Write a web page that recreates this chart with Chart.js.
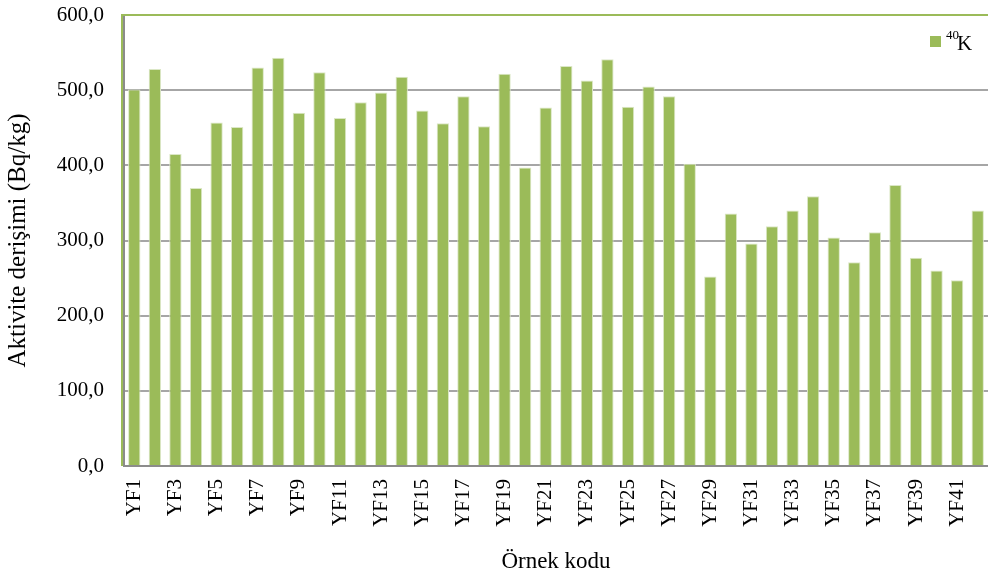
<!DOCTYPE html>
<html lang="tr">
<head>
<meta charset="UTF-8">
<title>40K aktivite derişimi</title>
<script src="https://cdn.jsdelivr.net/npm/chart.js"></script>
<style>
  html, body { margin: 0; padding: 0; background: #fff; }
  #wrap { width: 988px; height: 578px; }
</style>
</head>
<body>
<div id="wrap"><canvas id="grafik" width="988" height="578"></canvas></div>
<script>
// Örnek kodları ve 40K aktivite değerleri (Bq/kg)
const ornekler = ['YF1','YF2','YF3','YF4','YF5','YF6','YF7','YF8','YF9','YF10',
  'YF11','YF12','YF13','YF14','YF15','YF16','YF17','YF18','YF19','YF20',
  'YF21','YF22','YF23','YF24','YF25','YF26','YF27','YF28','YF29','YF30',
  'YF31','YF32','YF33','YF34','YF35','YF36','YF37','YF38','YF39','YF40',
  'YF41','YF42'];
const k40 = [501, 528, 415, 370, 457, 451, 530, 543, 470, 524,
  463, 484, 497, 518, 473, 456, 492, 452, 522, 397,
  477, 532, 513, 541, 478, 505, 492, 402, 252, 336,
  296, 319, 340, 359, 304, 271, 311, 374, 277, 260,
  247, 340];
const seriAdi = '40K';
const yMin = 0, yMax = 600, yAdim = 100;

const yesil = '#9bbb59';
const serif = '"Liberation Serif", "Times New Roman", serif';

// plot alanının üst ve sol kenarındaki yeşil çizgi
const cerceve = {
  id: 'cerceve',
  afterDraw(chart) {
    const a = chart.chartArea, c = chart.ctx;
    c.save();
    c.strokeStyle = yesil;
    c.lineWidth = 2;
    c.beginPath();
    c.moveTo(a.left - 2, a.bottom);
    c.lineTo(a.left - 2, a.top);
    c.lineTo(a.right, a.top);
    c.stroke();
    c.restore();
  }
};

// grafik içindeki lejant (üst simge ile 40K)
const lejant = {
  id: 'lejant',
  afterDraw(chart) {
    const c = chart.ctx;
    const x = 930, y = 36;
    c.save();
    c.fillStyle = yesil;
    c.fillRect(x, y, 11, 11);
    c.fillStyle = '#000';
    c.textBaseline = 'alphabetic';
    c.font = '13px ' + serif;
    c.fillText(seriAdi.slice(0, 2), x + 16, y + 3);
    c.font = '21px ' + serif;
    c.fillText(seriAdi.slice(2), x + 27, y + 14);
    c.restore();
  }
};

new Chart(document.getElementById('grafik'), {
  type: 'bar',
  data: {
    labels: ornekler,
    datasets: [{
      label: seriAdi,
      data: k40,
      backgroundColor: yesil,
      borderColor: '#dbe7c6',
      borderWidth: 1,
      categoryPercentage: 1.0,
      barPercentage: 0.6
    }]
  },
  options: {
    responsive: false,
    animation: false,
    layout: { padding: { top: 15, right: 0, left: 0, bottom: 0 } },
    plugins: {
      legend: { display: false },
      tooltip: { enabled: false }
    },
    scales: {
      x: {
        grid: { display: false, drawTicks: false },
        border: { color: '#8c8c8c', width: 2 },
        ticks: {
          color: '#000',
          font: { family: serif, size: 21 },
          maxRotation: 90,
          minRotation: 90,
          autoSkip: false,
          padding: 13,
          callback: function (v, i) { return i % 2 === 0 ? this.getLabelForValue(v) : ''; }
        },
        title: {
          display: true,
          text: 'Örnek kodu',
          color: '#000',
          font: { family: serif, size: 23 },
          padding: { top: 0, bottom: 2 }
        },
        afterFit(s) { s.height = 112; s.paddingLeft = 0; s.paddingRight = 0; }
      },
      y: {
        min: yMin,
        max: yMax,
        grid: {
          drawTicks: false,
          color: ctx => ctx.tick && ctx.tick.value === yMax ? 'rgba(0,0,0,0)' : '#a6a6a6',
          lineWidth: 2
        },
        border: { color: '#8c8c8c', width: 2 },
        ticks: {
          stepSize: yAdim,
          color: '#000',
          padding: 20,
          font: { family: serif, size: 21 },
          callback: v => v.toFixed(1).replace('.', ',')
        },
        title: {
          display: true,
          text: 'Aktivite derişimi (Bq/kg)',
          color: '#000',
          font: { family: serif, size: 25 },
          padding: { top: 3, bottom: 0 }
        },
        afterFit(s) { s.width = 124; s.paddingTop = 0; s.paddingBottom = 0; }
      }
    }
  },
  plugins: [cerceve, lejant]
});
</script>
</body>
</html>
